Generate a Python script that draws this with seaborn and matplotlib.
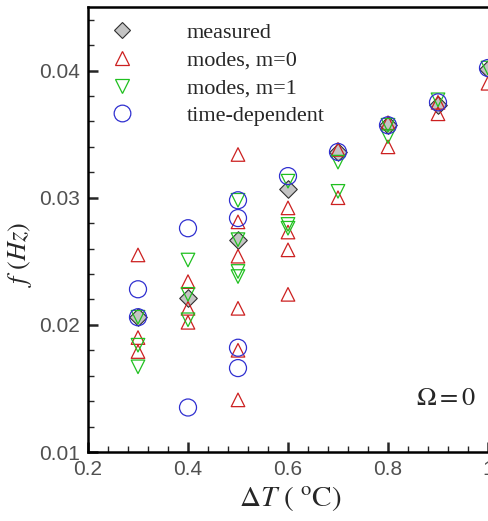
import numpy as np
import pandas as pd
import matplotlib
matplotlib.use("Agg")
import matplotlib.pyplot as plt
from matplotlib.lines import Line2D
from matplotlib.ticker import MultipleLocator, FormatStrFormatter
import seaborn as sns

# Frequencies f (Hz) versus temperature difference dT (degC)
measured_dT = [0.3, 0.4, 0.5, 0.6, 0.7, 0.8, 0.9, 1.0]
measured_f = [0.0206, 0.0221, 0.0267, 0.0307, 0.0336, 0.0357, 0.0373, 0.0401]

m0_dT = [0.3, 0.3, 0.3,
         0.4, 0.4, 0.4,
         0.5, 0.5, 0.5, 0.5, 0.5, 0.5,
         0.6, 0.6, 0.6, 0.6,
         0.7, 0.7,
         0.8, 0.8,
         0.9, 0.9,
         1.0]
m0_f = [0.0255, 0.0190, 0.0179,
        0.0234, 0.0213, 0.0202,
        0.0334, 0.0281, 0.0254, 0.0213, 0.0180, 0.0141,
        0.0292, 0.0273, 0.0259, 0.0224,
        0.0338, 0.0300,
        0.0359, 0.0340,
        0.0375, 0.0366,
        0.0390]

m1_dT = [0.3, 0.3, 0.3,
         0.4, 0.4, 0.4,
         0.5, 0.5, 0.5, 0.5,
         0.6, 0.6, 0.6,
         0.7, 0.7,
         0.8, 0.8,
         0.9,
         1.0]
m1_f = [0.0206, 0.0184, 0.0167,
        0.0251, 0.0224, 0.0204,
        0.0298, 0.0267, 0.0242, 0.0238,
        0.0313, 0.0279, 0.0276,
        0.0328, 0.0305,
        0.0357, 0.0348,
        0.0377,
        0.0402]

td_dT = [0.3, 0.3, 0.4, 0.4, 0.5, 0.5, 0.5, 0.5, 0.6, 0.7, 0.8, 0.9, 1.0]
td_f = [0.0228, 0.0206, 0.0276, 0.0135, 0.0298, 0.0284, 0.0182, 0.0166,
        0.0317, 0.0336, 0.0357, 0.0375, 0.0402]

series_names = ["measured", "modes, m=0", "modes, m=1", "time-dependent"]

RED = "#cc2020"
GREEN = "#20c020"
BLUE = "#3030d0"

sns.set_style("ticks")
plt.rcParams["font.family"] = ["Liberation Sans", "DejaVu Sans"]
plt.rcParams["mathtext.fontset"] = "stix"

fig = plt.figure(figsize=(4.89, 5.21), dpi=100)
# axes run a little beyond the right edge of the figure
ax = fig.add_axes([88 / 489, 69 / 521, 500 / 489, 445 / 521])

sns.scatterplot(x=measured_dT, y=measured_f, ax=ax, marker="D", s=80,
                facecolor="#c4c4c4", edgecolor="#303030", linewidth=0.8,
                zorder=3)
sns.scatterplot(x=m0_dT, y=m0_f, ax=ax, marker="^", s=95,
                facecolor="none", edgecolor=RED, linewidth=0.9, zorder=4)
sns.scatterplot(x=m1_dT, y=m1_f, ax=ax, marker="v", s=95,
                facecolor="none", edgecolor=GREEN, linewidth=0.9, zorder=4)
sns.scatterplot(x=td_dT, y=td_f, ax=ax, marker="o", s=150,
                facecolor="none", edgecolor=BLUE, linewidth=0.9, zorder=5)

ax.set_xlim(0.2, 1.2)
ax.set_ylim(0.01, 0.045)
ax.xaxis.set_major_locator(MultipleLocator(0.2))
ax.xaxis.set_minor_locator(MultipleLocator(0.04))
ax.yaxis.set_major_locator(MultipleLocator(0.01))
ax.yaxis.set_minor_locator(MultipleLocator(0.002))
ax.xaxis.set_major_formatter(FormatStrFormatter("%g"))
ax.yaxis.set_major_formatter(FormatStrFormatter("%g"))

for side in ["left", "bottom", "top", "right"]:
    ax.spines[side].set_linewidth(1.8)
    ax.spines[side].set_color("black")
ax.tick_params(which="major", direction="in", length=7, width=1.8,
               labelsize=15, labelcolor="#505050", pad=6,
               top=False, right=False)
ax.tick_params(which="minor", direction="in", length=4, width=1.0,
               top=False, right=False)

ax.set_xlabel(r"$\Delta T\ (\ ^{\mathrm{o}}\mathrm{C})$", fontsize=21)
ax.xaxis.set_label_coords((290 - 88) / 500, -0.072)
ax.set_ylabel(r"$f\ (Hz)$", fontsize=19)
ax.yaxis.set_label_coords(-0.108, (521 - 254 - 69) / 445)

ax.text((446 - 88) / 500, (521 - 398 - 69) / 445, r"$\Omega = 0$",
        transform=ax.transAxes, fontsize=19, ha="center", va="center")

handles = [
    Line2D([], [], linestyle="none", marker="D", markersize=8,
           markerfacecolor="#c4c4c4", markeredgecolor="#303030",
           markeredgewidth=0.8),
    Line2D([], [], linestyle="none", marker="^", markersize=9.5,
           markerfacecolor="none", markeredgecolor=RED, markeredgewidth=0.9),
    Line2D([], [], linestyle="none", marker="v", markersize=9.5,
           markerfacecolor="none", markeredgecolor=GREEN, markeredgewidth=0.9),
    Line2D([], [], linestyle="none", marker="o", markersize=12,
           markerfacecolor="none", markeredgecolor=BLUE, markeredgewidth=0.9),
]
ax.legend(handles, series_names, loc="upper left",
          bbox_to_anchor=(0.02, 0.995), frameon=False,
          prop={"family": "Liberation Serif", "size": 16},
          handlelength=1.0, handletextpad=2.4, labelspacing=0.32,
          borderaxespad=0.2)

fig.savefig("out.png", dpi=100)
